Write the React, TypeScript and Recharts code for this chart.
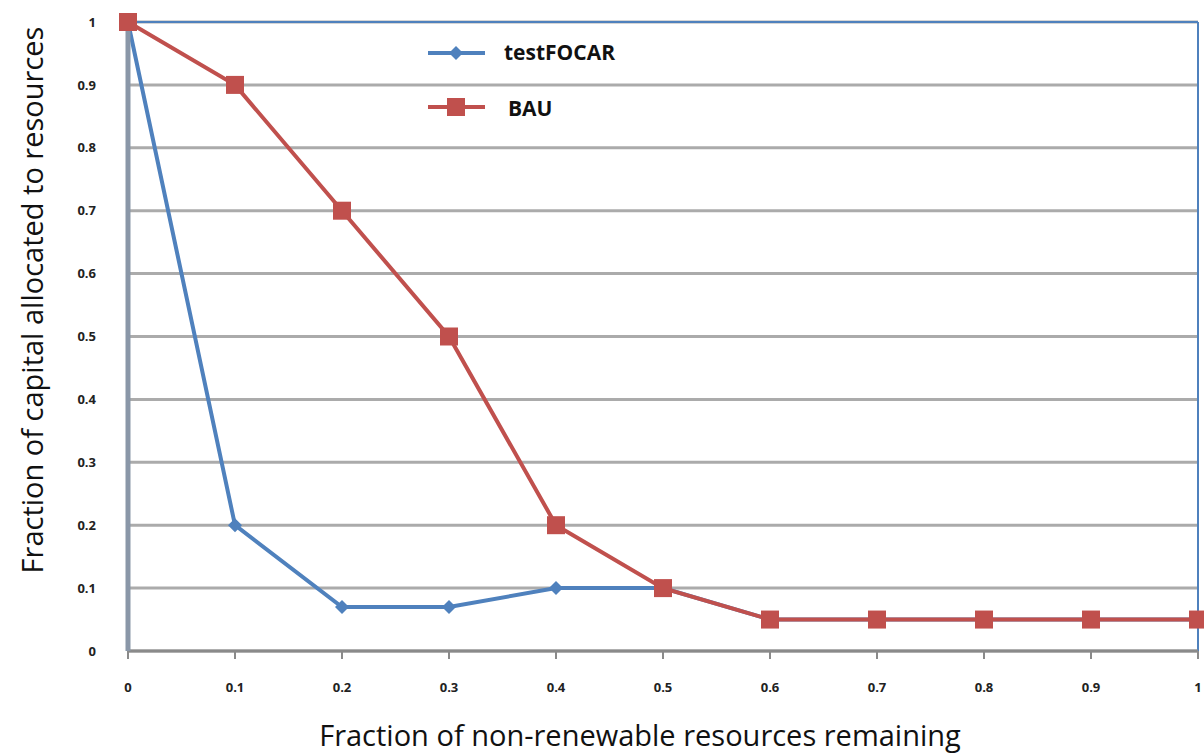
import React from "react";
import { LineChart, Line, XAxis, YAxis, CartesianGrid, ReferenceLine } from "recharts";

const xValues = [0, 0.1, 0.2, 0.3, 0.4, 0.5, 0.6, 0.7, 0.8, 0.9, 1];
const testFOCAR = [1, 0.2, 0.07, 0.07, 0.1, 0.1, 0.05, 0.05, 0.05, 0.05, 0.05];
const BAU = [1, 0.9, 0.7, 0.5, 0.2, 0.1, 0.05, 0.05, 0.05, 0.05, 0.05];
const ticks = [0, 0.1, 0.2, 0.3, 0.4, 0.5, 0.6, 0.7, 0.8, 0.9, 1];
const tickLabels = ["0", "0.1", "0.2", "0.3", "0.4", "0.5", "0.6", "0.7", "0.8", "0.9", "1"];

const data = xValues.map((x, i) => ({ x, testFOCAR: testFOCAR[i], BAU: BAU[i] }));

const BLUE = "#4f81bd";
const RED = "#c0504d";
const FONT = "'Open Sans', 'Liberation Sans', sans-serif";

const Square = (props: any) => {
  const { cx, cy } = props;
  if (cx == null || cy == null) return null;
  return <rect x={cx - 9} y={cy - 9} width={18} height={18} fill={RED} />;
};

const Diamond = (props: any) => {
  const { cx, cy } = props;
  if (cx == null || cy == null) return null;
  const r = 7;
  return <path d={`M${cx},${cy - r}L${cx + r},${cy}L${cx},${cy + r}L${cx - r},${cy}Z`} fill={BLUE} />;
};

const fmt = (v: number) => tickLabels[ticks.findIndex((t) => Math.abs(t - v) < 1e-9)] ?? String(v);

export default function App() {
  return (
    <div style={{ position: "absolute", left: 0, top: 0, width: 1204, height: 754, background: "#fff", fontFamily: FONT, overflow: "hidden" }}>
      <LineChart width={1204} height={754} data={data} margin={{ top: 22, right: 6, bottom: 0, left: 0 }}>
        <CartesianGrid vertical={false} stroke="#ababab" strokeWidth={3} />
        <XAxis
          dataKey="x"
          type="number"
          domain={[0, 1]}
          ticks={ticks}
          tickFormatter={fmt}
          axisLine={{ stroke: "#8a8a8a", strokeWidth: 3 }}
          tickLine={{ stroke: "#8a8a8a", strokeWidth: 2 }}
          tickSize={8}
          tick={{ fontSize: 13, fontWeight: 700, fill: "#222", fontFamily: FONT, dy: 22 }}
          height={103}
        />
        <YAxis
          type="number"
          domain={[0, 1]}
          ticks={ticks}
          tickFormatter={fmt}
          axisLine={{ stroke: "#8a97a8", strokeWidth: 5 }}
          tickLine={false}
          tick={{ fontSize: 13, fontWeight: 700, fill: "#222", fontFamily: FONT, dx: -24 }}
          width={128}
        />
        <ReferenceLine y={1} stroke={BLUE} strokeWidth={2} />
        <ReferenceLine x={1} stroke={BLUE} strokeWidth={2} />
        <Line dataKey="testFOCAR" stroke={BLUE} strokeWidth={4} dot={<Diamond />} isAnimationActive={false} />
        <Line dataKey="BAU" stroke={RED} strokeWidth={4} dot={<Square />} isAnimationActive={false} />
      </LineChart>
      <div style={{ position: "absolute", left: 140, top: 718, width: 1000, textAlign: "center", fontSize: 29, lineHeight: "34px", color: "#111", whiteSpace: "nowrap" }}>
        Fraction of non-renewable resources remaining
      </div>
      <div style={{ position: "absolute", left: 31, top: 300, transform: "translate(-50%, -50%) rotate(-90deg)", fontSize: 29, color: "#111", whiteSpace: "nowrap" }}>
        Fraction of capital allocated to resources
      </div>
      <div style={{ position: "absolute", left: 428, top: 38, width: 250, height: 100 }}>
        <svg width={250} height={100} style={{ position: "absolute", left: 0, top: 0 }}>
          <line x1={0} y1={15} x2={57} y2={15} stroke={BLUE} strokeWidth={4} />
          <path d="M28,8L35,15L28,22L21,15Z" fill={BLUE} />
          <line x1={0} y1={69} x2={57} y2={69} stroke={RED} strokeWidth={4} />
          <rect x={19} y={60} width={18} height={18} fill={RED} />
        </svg>
        <div style={{ position: "absolute", left: 76, top: 0, fontSize: 21, fontWeight: 700, color: "#111" }}>testFOCAR</div>
        <div style={{ position: "absolute", left: 80, top: 56, fontSize: 21, fontWeight: 700, color: "#111" }}>BAU</div>
      </div>
    </div>
  );
}
